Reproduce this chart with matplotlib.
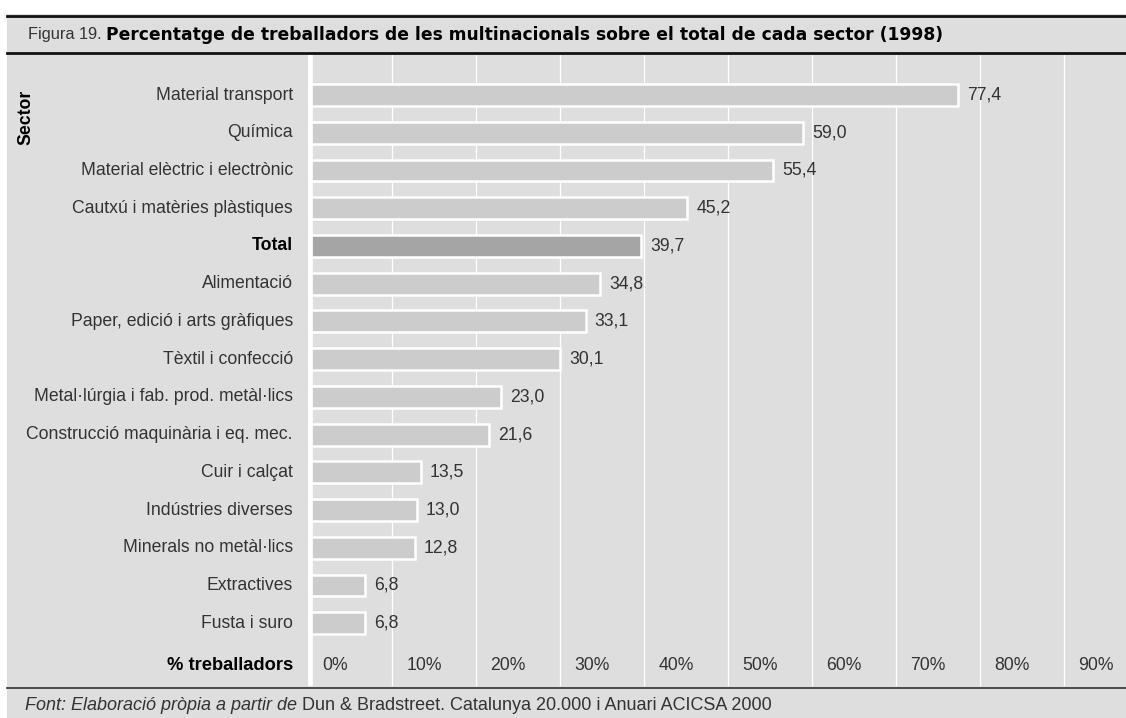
import matplotlib
matplotlib.use("Agg")
import matplotlib.pyplot as plt
from matplotlib.patches import Rectangle
from matplotlib.lines import Line2D

# Data
sectors = [
    "Material transport",
    "Química",
    "Material elèctric i electrònic",
    "Cautxú i matèries plàstiques",
    "Total",
    "Alimentació",
    "Paper, edició i arts gràfiques",
    "Tèxtil i confecció",
    "Metal·lúrgia i fab. prod. metàl·lics",
    "Construcció maquinària i eq. mec.",
    "Cuir i calçat",
    "Indústries diverses",
    "Minerals no metàl·lics",
    "Extractives",
    "Fusta i suro",
]
values = [77.4, 59.0, 55.4, 45.2, 39.7, 34.8, 33.1, 30.1, 23.0, 21.6, 13.5, 13.0, 12.8, 6.8, 6.8]
ticks = [0, 10, 20, 30, 40, 50, 60, 70, 80, 90]

title_num = "Figura 19."
title_text = "Percentatge de treballadors de les multinacionals sobre el total de cada sector (1998)"
source_italic = "Font: Elaboració pròpia a partir de"
source_plain = "Dun & Bradstreet. Catalunya 20.000 i Anuari ACICSA 2000"

plt.rcParams["font.family"] = ["Liberation Sans", "DejaVu Sans"]

BG = "#dedede"
BAR = "#cccccc"
BAR_TOTAL = "#a5a5a5"
TXT = "#333333"

W, H = 1126, 718
fig = plt.figure(figsize=(W / 100, H / 100), dpi=100)
fig.patch.set_facecolor("white")


def fx(px):
    return px / W


def fy(py):
    return 1 - py / H


# grey panel and the black rules
fig.add_artist(Rectangle((fx(7), 0), 1 - fx(7), fy(14), transform=fig.transFigure,
                         facecolor=BG, edgecolor="none", zorder=0))
fig.add_artist(Line2D([fx(7), 1], [fy(15.5), fy(15.5)], transform=fig.transFigure,
                      color="#111111", lw=2.0))
fig.add_artist(Line2D([fx(7), 1], [fy(53), fy(53)], transform=fig.transFigure,
                      color="#111111", lw=2.0))
fig.add_artist(Line2D([fx(7), 1], [fy(687.5), fy(687.5)], transform=fig.transFigure,
                      color="#333333", lw=1.2))

# plot area: x = 0 sits at pixel 307.5
x0 = 307.5
ppu = 8.4
ax = fig.add_axes([fx(x0), fy(686), 1 - fx(x0), (686 - 55) / H])
ax.set_facecolor(BG)
ax.patch.set_alpha(0)
ax.set_xlim(0, (W - x0) / ppu)
pitch = 37.73
ax.set_ylim((686 - 95) / pitch, -(95 - 55) / pitch)
for s in ax.spines.values():
    s.set_visible(False)
ax.set_xticks([])
ax.set_yticks([])

for t in ticks[1:]:
    ax.axvline(t, color="white", lw=0.9, zorder=0.5)
ax.axvline(0.25, color="white", lw=3.4, zorder=3)

ypos = list(range(len(sectors)))
colors = [BAR_TOTAL if s == "Total" else BAR for s in sectors]
ax.barh(ypos, values, height=0.58, color=colors, edgecolor="white", linewidth=1.8, zorder=2)

for y, name, v in zip(ypos, sectors, values):
    bold = name == "Total"
    ax.text(-1.75, y, name, ha="right", va="center", fontsize=12.7,
            color="black" if bold else TXT, fontweight="bold" if bold else "normal")
    ax.annotate(f"{v:.1f}".replace(".", ","), xy=(v, y), xytext=(6.5, 0),
                textcoords="offset points", ha="left", va="center",
                fontsize=12.7, color=TXT)

row_ticks = (665 - 95) / pitch
for t in ticks:
    ax.text(t + 1.75, row_ticks, f"{t}%", ha="left", va="center", fontsize=12.7, color=TXT)
ax.text(-1.75, row_ticks, "% treballadors", ha="right", va="center", fontsize=13.2,
        fontweight="bold", color="black")

fig.text(fx(26), fy(117.5), "Sector", rotation=90, ha="center", va="center",
         fontsize=12.7, fontweight="bold", color="black")

# title and source, each built from two runs of text
fig.canvas.draw()
renderer = fig.canvas.get_renderer()
t1 = fig.text(fx(28), fy(33), title_num + " ", ha="left", va="center_baseline",
              fontsize=11.8, color=TXT)
bb = t1.get_window_extent(renderer)
fig.text(bb.x1 / W, fy(33), title_text, ha="left", va="center_baseline",
         fontsize=12.3, fontweight="bold", color="black", family="DejaVu Sans")

s1 = fig.text(fx(25), fy(703), source_italic + " ", ha="left", va="center_baseline",
              fontsize=13, style="italic", color=TXT)
bb = s1.get_window_extent(renderer)
fig.text(bb.x1 / W, fy(703), source_plain, ha="left", va="center_baseline",
         fontsize=13, color=TXT)

fig.savefig("out.png", dpi=100, facecolor=fig.get_facecolor())
